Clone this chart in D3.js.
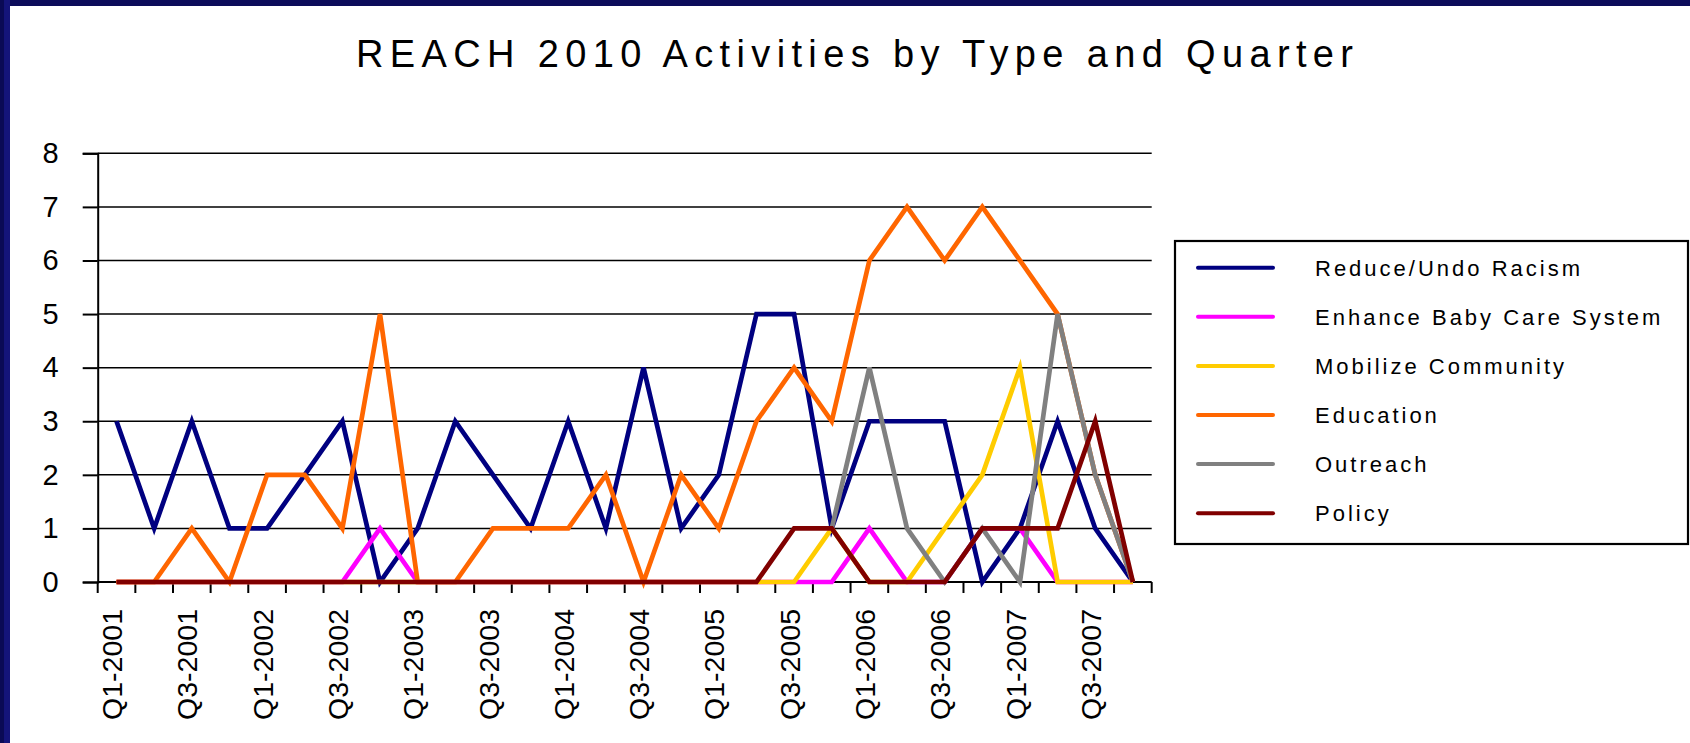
<!DOCTYPE html>
<html>
<head>
<meta charset="utf-8">
<script src="https://cdn.jsdelivr.net/npm/d3@7"></script>
<style>
    body { margin: 0; background: #fff; }
    svg { display: block; font-family: Arial, "Liberation Sans", sans-serif; }
    .grid line { stroke: #000; stroke-width: 1.5; }
    .series { fill: none; stroke-width: 4.7; stroke-linejoin: miter; }
</style>
</head>
<body>
<div id="chart"></div>
<script>

// categories (one per quarter)
var quarters = [
    "Q1-2001", "Q2-2001", "Q3-2001", "Q4-2001",
    "Q1-2002", "Q2-2002", "Q3-2002", "Q4-2002",
    "Q1-2003", "Q2-2003", "Q3-2003", "Q4-2003",
    "Q1-2004", "Q2-2004", "Q3-2004", "Q4-2004",
    "Q1-2005", "Q2-2005", "Q3-2005", "Q4-2005",
    "Q1-2006", "Q2-2006", "Q3-2006", "Q4-2006",
    "Q1-2007", "Q2-2007", "Q3-2007", "Q4-2007"
];

// only every other quarter gets a label
var tickLabels = ["Q1-2001", "Q3-2001", "Q1-2002", "Q3-2002", "Q1-2003", "Q3-2003", "Q1-2004",
    "Q3-2004", "Q1-2005", "Q3-2005", "Q1-2006", "Q3-2006", "Q1-2007", "Q3-2007"];

var yTicks = [0, 1, 2, 3, 4, 5, 6, 7, 8];

var seriesNames = ["Reduce/Undo Racism", "Enhance Baby Care System", "Mobilize Community",
    "Education", "Outreach", "Policy"];

var reduceRacism = [3, 1, 3, 1, 1, 2, 3, 0, 1, 3, 2, 1, 3, 1, 4, 1, 2, 5, 5, 1, 3, 3, 3, 0, 1, 3, 1, 0];
var babyCare     = [0, 0, 0, 0, 0, 0, 0, 1, 0, 0, 0, 0, 0, 0, 0, 0, 0, 0, 0, 0, 1, 0, 0, 1, 1, 0, 0, 0];
var mobilize     = [0, 0, 0, 0, 0, 0, 0, 0, 0, 0, 0, 0, 0, 0, 0, 0, 0, 0, 0, 1, 0, 0, 1, 2, 4, 0, 0, 0];
var education    = [0, 0, 1, 0, 2, 2, 1, 5, 0, 0, 1, 1, 1, 2, 0, 2, 1, 3, 4, 3, 6, 7, 6, 7, 6, 5, 2, 0];
var outreach     = [null, null, null, null, null, null, null, null, null, null, null, null, null, null,
                    null, null, null, null, null, 1, 4, 1, 0, 1, 0, 5, 2, 0];
var policy       = [0, 0, 0, 0, 0, 0, 0, 0, 0, 0, 0, 0, 0, 0, 0, 0, 0, 0, 1, 1, 0, 0, 0, 1, 1, 1, 3, 0];

var seriesColors = ["#000080", "#ff00ff", "#ffcc00", "#ff6600", "#808080", "#800000"];

var seriesData = [reduceRacism, babyCare, mobilize, education, outreach, policy];

var W = 1690, H = 743;
var plot = { left: 97.7, right: 1151.7, top: 153.3, bottom: 582 };

var svg = d3.select("#chart").append("svg")
    .attr("width", W)
    .attr("height", H);

// slide frame (dark blue strip on top and left)
svg.append("rect").attr("x", 0).attr("y", 0).attr("width", W).attr("height", 6).attr("fill", "#0c0c5a");
svg.append("rect").attr("x", 0).attr("y", 0).attr("width", 10).attr("height", H).attr("fill", "#14147a");
svg.append("rect").attr("x", 0).attr("y", 0).attr("width", 4).attr("height", H).attr("fill", "#0a0a55");

// title
svg.append("text")
    .attr("x", 854.5)
    .attr("y", 67)
    .attr("text-anchor", "middle")
    .attr("font-size", 38)
    .attr("textLength", 997)
    .attr("lengthAdjust", "spacing")
    .text("REACH 2010 Activities by Type and Quarter");

// scales
var xScale = d3.scaleBand()
    .domain(quarters)
    .range([plot.left, plot.right])
    .paddingInner(0)
    .paddingOuter(0);

var yScale = d3.scaleLinear()
    .domain([0, 8])
    .range([plot.bottom, plot.top]);

// horizontal gridlines
svg.append("g")
    .attr("class", "grid")
    .selectAll("line")
    .data(yTicks.filter(function (d) { return d > 0; }))
    .enter().append("line")
    .attr("x1", plot.left)
    .attr("x2", plot.right)
    .attr("y1", function (d) { return yScale(d); })
    .attr("y2", function (d) { return yScale(d); });

// y axis, ticks stick out to the left
var yAxis = svg.append("g")
    .attr("transform", "translate(" + plot.left + ",0)")
    .call(d3.axisLeft(yScale).tickValues(yTicks).tickSize(15).tickPadding(24).tickFormat(d3.format("d")));
yAxis.attr("font-size", null).attr("font-family", null);
yAxis.select(".domain").attr("stroke", "#000").attr("stroke-width", 2);
yAxis.selectAll(".tick line").attr("stroke", "#000").attr("stroke-width", 2);
yAxis.selectAll(".tick text")
    .style("font-size", "29px")
    .style("font-family", "Arial, 'Liberation Sans', sans-serif")
    .attr("fill", "#000");

// x axis: ticks on the category boundaries
var bw = xScale.bandwidth();
var xAxisG = svg.append("g");
xAxisG.append("line")
    .attr("x1", plot.left).attr("x2", plot.right)
    .attr("y1", plot.bottom).attr("y2", plot.bottom)
    .attr("stroke", "#000").attr("stroke-width", 2.2);
xAxisG.selectAll(".xtick")
    .data(quarters.concat(["_end"]))
    .enter().append("line")
    .attr("class", "xtick")
    .attr("x1", function (d) { return d === "_end" ? plot.right : xScale(d); })
    .attr("x2", function (d) { return d === "_end" ? plot.right : xScale(d); })
    .attr("y1", plot.bottom)
    .attr("y2", plot.bottom + 11)
    .attr("stroke", "#000")
    .attr("stroke-width", 2);

xAxisG.selectAll(".xlabel")
    .data(tickLabels)
    .enter().append("text")
    .attr("class", "xlabel")
    .attr("transform", function (d) {
        return "translate(" + (xScale(d) + bw / 2) + ",609) rotate(-90)";
    })
    .attr("text-anchor", "end")
    .attr("dy", "0.2em")
    .style("font-size", "28px")
    .attr("textLength", 111)
    .attr("lengthAdjust", "spacingAndGlyphs")
    .text(function (d) { return d; });

// lines
var line = d3.line()
    .defined(function (d) { return d != null; })
    .x(function (d, i) { return xScale(quarters[i]) + bw / 2; })
    .y(function (d) { return yScale(d); });

svg.selectAll(".series")
    .data(seriesData)
    .enter().append("path")
    .attr("class", "series")
    .attr("stroke", function (d, i) { return seriesColors[i]; })
    .attr("d", line);

// legend
var legend = svg.append("g");
legend.append("rect")
    .attr("x", 1175)
    .attr("y", 241)
    .attr("width", 513)
    .attr("height", 303)
    .attr("fill", "#fff")
    .attr("stroke", "#000")
    .attr("stroke-width", 2.2);

var rows = legend.selectAll(".lrow")
    .data(seriesNames)
    .enter().append("g")
    .attr("class", "lrow")
    .attr("transform", function (d, i) { return "translate(0," + (267.7 + i * 49.1) + ")"; });

rows.append("line")
    .attr("x1", 1198).attr("x2", 1273)
    .attr("y1", 0).attr("y2", 0)
    .attr("stroke", function (d, i) { return seriesColors[i]; })
    .attr("stroke-width", 4)
    .attr("stroke-linecap", "round");

rows.append("text")
    .attr("x", 1315)
    .attr("dy", "0.36em")
    .style("font-size", "22px")
    .attr("letter-spacing", 3)
    .text(function (d) { return d; });

</script>
</body>
</html>
